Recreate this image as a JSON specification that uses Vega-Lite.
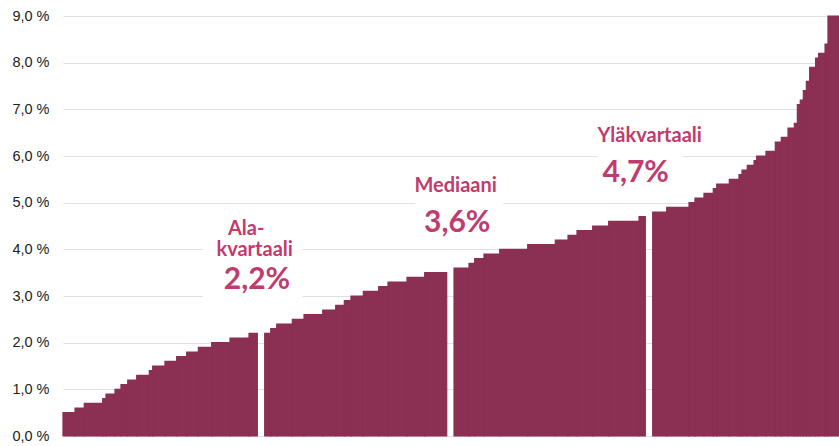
{
  "$schema": "https://vega.github.io/schema/vega-lite/v6.json",
  "width": 776,
  "height": 420,
  "autosize": {"type": "none"},
  "padding": {"left": 63, "top": 16, "right": 0, "bottom": 10},
  "background": "white",
  "config": {"view": {"stroke": null}},
  "layer": [
    {
      "data": {"values": [
        {"x0": 0, "x1": 1.55, "v": 0.5},
        {"x0": 1.55, "x1": 2.74, "v": 0.6},
        {"x0": 2.74, "x1": 5.12, "v": 0.7},
        {"x0": 5.12, "x1": 5.54, "v": 0.8},
        {"x0": 5.54, "x1": 6.70, "v": 0.9},
        {"x0": 6.70, "x1": 7.47, "v": 1.0},
        {"x0": 7.47, "x1": 8.34, "v": 1.1},
        {"x0": 8.34, "x1": 9.50, "v": 1.2},
        {"x0": 9.50, "x1": 11.12, "v": 1.3},
        {"x0": 11.12, "x1": 11.56, "v": 1.4},
        {"x0": 11.56, "x1": 13.14, "v": 1.5},
        {"x0": 13.14, "x1": 14.65, "v": 1.6},
        {"x0": 14.65, "x1": 15.94, "v": 1.7},
        {"x0": 15.94, "x1": 17.44, "v": 1.8},
        {"x0": 17.44, "x1": 19.16, "v": 1.9},
        {"x0": 19.16, "x1": 21.52, "v": 2.0},
        {"x0": 21.52, "x1": 23.97, "v": 2.1},
        {"x0": 23.97, "x1": 25.04, "v": 2.2},
        {"x0": 25.99, "x1": 26.77, "v": 2.2},
        {"x0": 26.77, "x1": 27.54, "v": 2.3},
        {"x0": 27.54, "x1": 29.55, "v": 2.4},
        {"x0": 29.55, "x1": 31.06, "v": 2.5},
        {"x0": 31.06, "x1": 33.47, "v": 2.6},
        {"x0": 33.47, "x1": 35.14, "v": 2.7},
        {"x0": 35.14, "x1": 36.25, "v": 2.8},
        {"x0": 36.25, "x1": 37.11, "v": 2.9},
        {"x0": 37.11, "x1": 38.70, "v": 3.0},
        {"x0": 38.70, "x1": 40.68, "v": 3.1},
        {"x0": 40.68, "x1": 41.88, "v": 3.2},
        {"x0": 41.88, "x1": 44.33, "v": 3.3},
        {"x0": 44.33, "x1": 46.61, "v": 3.4},
        {"x0": 46.61, "x1": 49.45, "v": 3.5},
        {"x0": 50.39, "x1": 52.32, "v": 3.6},
        {"x0": 52.32, "x1": 53.05, "v": 3.7},
        {"x0": 53.05, "x1": 54.25, "v": 3.8},
        {"x0": 54.25, "x1": 56.28, "v": 3.9},
        {"x0": 56.28, "x1": 59.88, "v": 4.0},
        {"x0": 59.88, "x1": 63.44, "v": 4.1},
        {"x0": 63.44, "x1": 65.08, "v": 4.2},
        {"x0": 65.08, "x1": 66.24, "v": 4.3},
        {"x0": 66.24, "x1": 68.26, "v": 4.4},
        {"x0": 68.26, "x1": 70.32, "v": 4.5},
        {"x0": 70.32, "x1": 74.23, "v": 4.6},
        {"x0": 74.23, "x1": 75.04, "v": 4.7},
        {"x0": 75.99, "x1": 77.80, "v": 4.8},
        {"x0": 77.80, "x1": 80.67, "v": 4.9},
        {"x0": 80.67, "x1": 81.44, "v": 5.0},
        {"x0": 81.44, "x1": 82.60, "v": 5.1},
        {"x0": 82.60, "x1": 83.80, "v": 5.2},
        {"x0": 83.80, "x1": 84.24, "v": 5.3},
        {"x0": 84.24, "x1": 85.86, "v": 5.4},
        {"x0": 85.86, "x1": 87.11, "v": 5.5},
        {"x0": 87.11, "x1": 87.50, "v": 5.6},
        {"x0": 87.50, "x1": 88.18, "v": 5.7},
        {"x0": 88.18, "x1": 89.05, "v": 5.8},
        {"x0": 89.05, "x1": 89.39, "v": 5.9},
        {"x0": 89.39, "x1": 90.59, "v": 6.0},
        {"x0": 90.59, "x1": 91.79, "v": 6.1},
        {"x0": 91.79, "x1": 92.56, "v": 6.3},
        {"x0": 92.56, "x1": 93.43, "v": 6.4},
        {"x0": 93.43, "x1": 94.24, "v": 6.6},
        {"x0": 94.24, "x1": 94.63, "v": 6.7},
        {"x0": 94.63, "x1": 95.01, "v": 7.1},
        {"x0": 95.01, "x1": 95.40, "v": 7.2},
        {"x0": 95.40, "x1": 95.79, "v": 7.4},
        {"x0": 95.79, "x1": 96.22, "v": 7.6},
        {"x0": 96.22, "x1": 96.99, "v": 7.9},
        {"x0": 96.99, "x1": 97.38, "v": 8.1},
        {"x0": 97.38, "x1": 98.20, "v": 8.2},
        {"x0": 98.20, "x1": 98.58, "v": 8.4},
        {"x0": 98.58, "x1": 100, "v": 9.0}
      ]},
      "mark": {"type": "rect", "color": "#8b2f53", "stroke": "#8b2f53", "strokeWidth": 1.2},
      "encoding": {
        "x": {"field": "x0", "type": "quantitative", "scale": {"domain": [0, 100], "nice": false, "zero": false}, "axis": null},
        "x2": {"field": "x1"},
        "y": {"field": "v", "type": "quantitative", "scale": {"domain": [0, 9], "nice": false},
          "axis": {"title": null, "values": [0, 1, 2, 3, 4, 5, 6, 7, 8, 9], "grid": true, "gridColor": "#e0e0e0", "gridWidth": 1.2,
            "domain": false, "ticks": false, "labelPadding": 14, "labelFont": "Liberation Sans", "labelFontSize": 14.5, "labelColor": "#222222",
            "labelExpr": "replace(format(datum.value, '.1f'), '.', ',') + ' %'"}},
        "y2": {"datum": 0}
      }
    },
    {
      "data": {"values": [
        {"a": 18.0, "b": 30.9, "lo": 2.9, "hi": 4.6},
        {"a": 45.4, "b": 56.7, "lo": 4.3, "hi": 5.5},
        {"a": 68.9, "b": 79.9, "lo": 5.1, "hi": 6.2}
      ]},
      "mark": {"type": "rect", "color": "white"},
      "encoding": {
        "x": {"field": "a", "type": "quantitative"},
        "x2": {"field": "b"},
        "y": {"field": "lo", "type": "quantitative"},
        "y2": {"field": "hi"}
      }
    },
    {
      "data": {"values": [
        {"x": 23.6, "y": 4.31, "t": "Ala-"},
        {"x": 24.7, "y": 3.85, "t": "kvartaali"},
        {"x": 50.6, "y": 5.22, "t": "Mediaani"},
        {"x": 75.6, "y": 6.30, "t": "Yläkvartaali"}
      ]},
      "mark": {"type": "text", "font": "Lato", "fontWeight": "bold", "fontSize": 20, "color": "#c03c6e", "align": "center", "baseline": "alphabetic"},
      "encoding": {
        "x": {"field": "x", "type": "quantitative"},
        "y": {"field": "y", "type": "quantitative"},
        "text": {"field": "t"}
      }
    },
    {
      "data": {"values": [
        {"x": 25.0, "y": 3.16, "t": "2,2%"},
        {"x": 50.8, "y": 4.37, "t": "3,6%"},
        {"x": 73.8, "y": 5.44, "t": "4,7%"}
      ]},
      "mark": {"type": "text", "font": "Lato", "fontWeight": "bold", "fontSize": 30, "color": "#c03c6e", "align": "center", "baseline": "alphabetic"},
      "encoding": {
        "x": {"field": "x", "type": "quantitative"},
        "y": {"field": "y", "type": "quantitative"},
        "text": {"field": "t"}
      }
    }
  ]
}
